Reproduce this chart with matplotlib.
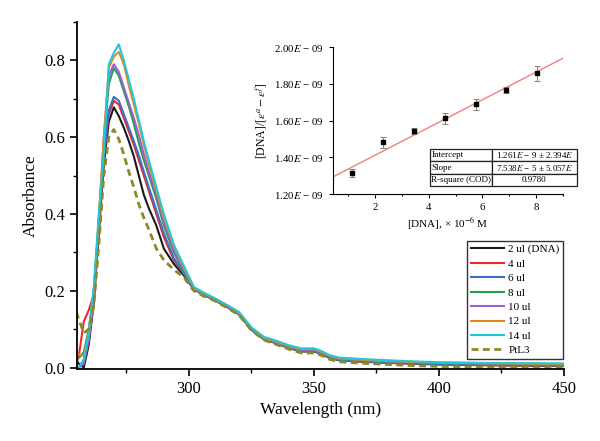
import numpy as np
import matplotlib.pyplot as plt
from matplotlib.ticker import MultipleLocator, FuncFormatter

plt.rcParams['font.family'] = ['Liberation Serif', 'DejaVu Serif']
plt.rcParams['mathtext.fontset'] = 'stix'

# UV-vis titration spectra
wavelength = [255, 256, 258, 260, 262, 264, 266, 268, 270, 272, 274, 276, 278, 280,
              282, 284, 287, 290, 294, 298, 302, 306, 310, 315, 320, 325, 330, 335,
              340, 345, 350, 353, 356, 360, 370, 380, 390, 400, 420, 450]

abs_2ul = [0.02, 0.01, 0.0, 0.06, 0.17, 0.35, 0.53, 0.64, 0.678, 0.655, 0.625, 0.59, 0.55, 0.50,
           0.45, 0.415, 0.37, 0.31, 0.27, 0.24, 0.204, 0.189, 0.177, 0.159, 0.139, 0.099, 0.074, 0.063,
           0.051, 0.042, 0.042, 0.036, 0.026, 0.019, 0.015, 0.012, 0.010, 0.008, 0.006, 0.004]
abs_4ul = [0.01, 0.03, 0.12, 0.15, 0.19, 0.37, 0.55, 0.66, 0.695, 0.685, 0.65, 0.615, 0.58, 0.54,
           0.50, 0.46, 0.40, 0.34, 0.28, 0.245, 0.205, 0.19, 0.178, 0.16, 0.14, 0.10, 0.075, 0.064,
           0.052, 0.043, 0.043, 0.037, 0.027, 0.020, 0.016, 0.013, 0.011, 0.009, 0.007, 0.005]
abs_6ul = [0.0, 0.0, 0.02, 0.08, 0.18, 0.36, 0.55, 0.67, 0.705, 0.695, 0.66, 0.625, 0.59, 0.553,
           0.51, 0.47, 0.41, 0.35, 0.285, 0.245, 0.205, 0.19, 0.178, 0.16, 0.14, 0.10, 0.075, 0.064,
           0.052, 0.043, 0.043, 0.037, 0.027, 0.020, 0.016, 0.013, 0.011, 0.009, 0.007, 0.005]
abs_8ul = [0.02, 0.025, 0.04, 0.10, 0.20, 0.38, 0.58, 0.74, 0.78, 0.76, 0.72, 0.68, 0.635, 0.585,
           0.54, 0.50, 0.44, 0.37, 0.30, 0.25, 0.206, 0.191, 0.179, 0.161, 0.141, 0.101, 0.076, 0.065,
           0.053, 0.045, 0.045, 0.039, 0.029, 0.022, 0.018, 0.015, 0.013, 0.011, 0.009, 0.007]
abs_10ul = [0.0, 0.0, 0.01, 0.07, 0.18, 0.38, 0.60, 0.76, 0.79, 0.77, 0.73, 0.69, 0.65, 0.605,
            0.555, 0.51, 0.45, 0.38, 0.305, 0.255, 0.207, 0.192, 0.18, 0.162, 0.142, 0.102, 0.077, 0.066,
            0.054, 0.046, 0.046, 0.040, 0.030, 0.023, 0.019, 0.016, 0.014, 0.012, 0.010, 0.008]
abs_12ul = [0.03, 0.035, 0.03, 0.09, 0.20, 0.39, 0.60, 0.78, 0.81, 0.822, 0.79, 0.735, 0.685, 0.635,
            0.58, 0.53, 0.46, 0.39, 0.315, 0.26, 0.208, 0.193, 0.181, 0.163, 0.143, 0.103, 0.078, 0.068,
            0.056, 0.048, 0.048, 0.041, 0.031, 0.024, 0.020, 0.017, 0.015, 0.013, 0.011, 0.009]
abs_14ul = [0.0, 0.0, 0.02, 0.09, 0.21, 0.40, 0.56, 0.79, 0.82, 0.842, 0.80, 0.75, 0.70, 0.645,
            0.59, 0.54, 0.47, 0.40, 0.32, 0.265, 0.21, 0.195, 0.182, 0.164, 0.145, 0.105, 0.08, 0.07,
            0.058, 0.05, 0.05, 0.043, 0.033, 0.026, 0.022, 0.019, 0.016, 0.014, 0.012, 0.011]
abs_ptl3 = [0.145, 0.125, 0.09, 0.10, 0.16, 0.32, 0.50, 0.60, 0.62, 0.595, 0.555, 0.51, 0.47, 0.425,
            0.39, 0.36, 0.31, 0.28, 0.255, 0.235, 0.20, 0.186, 0.175, 0.157, 0.137, 0.097, 0.072, 0.06,
            0.048, 0.038, 0.038, 0.032, 0.022, 0.015, 0.011, 0.008, 0.005, 0.003, 0.001, 0.0]

labels = ['2 ul (DNA)', '4 ul', '6 ul', '8 ul', '10 ul', '12 ul', '14 ul', 'PtL3']
colors = ['#1a1a1a', '#f0282a', '#3a6fd0', '#22a050', '#9a5fd0', '#e08a20', '#20c8d8', '#8a8a2a']

# binding plot (inset)
conc = [1.14, 2.3, 3.46, 4.6, 5.75, 6.87, 8.03]
ratio = [1.314e-9, 1.483e-9, 1.543e-9, 1.614e-9, 1.69e-9, 1.766e-9, 1.858e-9]
ratio_err = [0.02e-9, 0.03e-9, 0.015e-9, 0.03e-9, 0.03e-9, 0.015e-9, 0.04e-9]
intercept = 1.261e-9
slope = 7.538e-5  # per M, conc is in 1e-6 M

fig = plt.figure(figsize=(6, 4.41), dpi=100)
ax = fig.add_axes([0.128, 0.163, 0.812, 0.787])

series = [abs_2ul, abs_4ul, abs_6ul, abs_8ul, abs_10ul, abs_12ul, abs_14ul]
for ys, lab, c in zip(series, labels[:-1], colors[:-1]):
    ax.plot(wavelength, ys, color=c, lw=1.5, label=lab)
ax.plot(wavelength, abs_ptl3, color=colors[-1], lw=2, ls=(0, (2.5, 1.6)), label=labels[-1])

ax.set_xlim(255.2, 450)
ax.set_ylim(-0.004, 0.9)
ax.xaxis.set_major_locator(MultipleLocator(50))
ax.xaxis.set_minor_locator(MultipleLocator(25))
ax.yaxis.set_major_locator(MultipleLocator(0.2))
ax.yaxis.set_minor_locator(MultipleLocator(0.1))
ax.yaxis.set_major_formatter(FuncFormatter(lambda v, p: f'{v:.1f}'))
for s in ['top', 'right']:
    ax.spines[s].set_visible(False)
for s in ['left', 'bottom']:
    ax.spines[s].set_linewidth(1.3)
ax.tick_params(which='major', length=5, width=1.2, labelsize=12)
ax.tick_params(which='minor', length=3, width=1.0)
ax.set_xlabel('Wavelength (nm)', fontsize=12.5)
ax.set_ylabel('Absorbance', fontsize=12.5)

ax.legend(loc='lower right', bbox_to_anchor=(0.998, 0.03), borderaxespad=0,
          fontsize=8, handlelength=3.0, labelspacing=0.42, borderpad=0.3,
          handletextpad=0.4, fancybox=False, framealpha=1, edgecolor='#333333')

# inset
axi = fig.add_axes([0.555, 0.56, 0.383, 0.333])
xf = np.array([0.43, 9.0])
axi.plot(xf, intercept + slope * 1e-6 * xf, color='#f08080', lw=1)
axi.errorbar(conc, ratio, yerr=ratio_err, fmt='s', color='black', ms=3.5,
             ecolor='#888888', elinewidth=0.8, capsize=2, capthick=0.8)
axi.set_xlim(0.43, 9.0)
axi.set_ylim(1.2e-9, 2.0e-9)
axi.xaxis.set_major_locator(MultipleLocator(2))
axi.xaxis.set_minor_locator(MultipleLocator(1))
axi.yaxis.set_major_locator(MultipleLocator(0.2e-9))
axi.yaxis.set_major_formatter(FuncFormatter(lambda v, p: f'{v * 1e9:.2f}$E$ − 09'))
for s in ['top', 'right']:
    axi.spines[s].set_visible(False)
axi.tick_params(which='major', length=3, width=0.8, labelsize=7.8)
axi.tick_params(which='minor', length=1.5, width=0.8)
axi.set_xlabel('[DNA], × 10$^{-6}$ M', fontsize=8, labelpad=2)
axi.set_ylabel(r'[DNA]/[$\varepsilon^a - \varepsilon^f$]', fontsize=8.5)

cells = [['Intercept', '1.261$E$ − 9 ± 2.394$E$'],
         ['Slope', '7.538$E$ − 5 ± 5.057$E$'],
         ['R-square (COD)', '0.9780']]
tbl = axi.table(cellText=cells, bbox=[0.42, 0.054, 0.643, 0.252],
                colWidths=[0.42, 0.58], cellLoc='center')
tbl.auto_set_font_size(False)
tbl.set_fontsize(6.5)
for (r, c), cell in tbl.get_celld().items():
    cell.set_linewidth(0.9)
    cell.set_edgecolor('#222222')
    if c == 0:
        cell._loc = 'left'
        cell.PAD = 0.03
        cell.get_text().set_horizontalalignment('left')

fig.savefig('out.png', dpi=100)
